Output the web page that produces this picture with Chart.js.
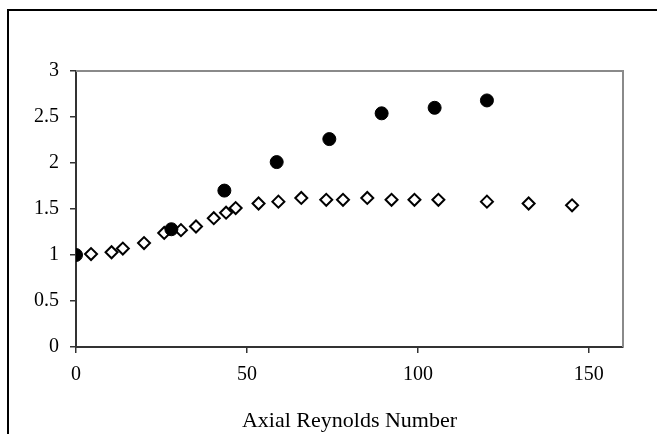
<!DOCTYPE html>
<html>
<head>
<meta charset="utf-8">
<script src="https://cdn.jsdelivr.net/npm/chart.js@4/dist/chart.umd.min.js"></script>
<style>
html,body{margin:0;padding:0;background:#fff;}
#wrap{width:657px;height:434px;position:relative;}
</style>
</head>
<body>
<div id="wrap"><canvas id="c" width="657" height="434"></canvas></div>
<script>
// Filled circles series
const circleX = [0, 27.9, 43.4, 58.7, 74.1, 89.4, 104.9, 120.2];
const circleY = [1.0, 1.28, 1.70, 2.01, 2.26, 2.54, 2.60, 2.68];
// Open diamonds series
const diamondX = [4.4, 10.4, 13.7, 19.9, 25.8, 30.7, 35.1, 40.3, 43.9, 46.7, 53.4, 59.2, 65.9, 73.2, 78.1, 85.2, 92.3, 99.0, 106.0, 120.2, 132.4, 145.1];
const diamondY = [1.01, 1.03, 1.07, 1.13, 1.24, 1.27, 1.31, 1.40, 1.46, 1.51, 1.56, 1.58, 1.62, 1.60, 1.60, 1.62, 1.60, 1.60, 1.60, 1.58, 1.56, 1.54];
// Tick values and labels
const xTicks = [0, 50, 100, 150];
const yTicks = [0, 0.5, 1, 1.5, 2, 2.5, 3];
const yTickLabels = ['0', '0.5', '1', '1.5', '2', '2.5', '3'];
const xTitle = 'Axial Reynolds Number';

const toPts = (xs, ys) => xs.map((x, i) => ({x: x, y: ys[i]}));

const framePlugin = {
  id: 'frame',
  beforeDraw(chart) {
    const ctx = chart.ctx;
    ctx.save();
    ctx.strokeStyle = '#000';
    ctx.lineWidth = 2;
    ctx.beginPath();
    ctx.moveTo(8, 434);
    ctx.lineTo(8, 10);
    ctx.lineTo(657, 10);
    ctx.stroke();
    ctx.restore();
  },
  afterDatasetsDraw(chart) {
    const a = chart.chartArea;
    const ctx = chart.ctx;
    ctx.save();
    ctx.strokeStyle = '#8a8a8a';
    ctx.lineWidth = 2;
    ctx.beginPath();
    ctx.moveTo(a.left, a.top);
    ctx.lineTo(a.right, a.top);
    ctx.lineTo(a.right, a.bottom);
    ctx.stroke();
    ctx.restore();
  }
};

const font = {family: '"Liberation Serif", "Times New Roman", serif', size: 20};

new Chart(document.getElementById('c'), {
  type: 'scatter',
  data: {
    datasets: [
      {
        label: 'A',
        data: toPts(circleX, circleY),
        pointStyle: 'circle',
        pointRadius: 6.5,
        pointHoverRadius: 6.5,
        backgroundColor: '#000',
        borderColor: '#000',
        borderWidth: 1
      },
      {
        label: 'B',
        data: toPts(diamondX, diamondY),
        pointStyle: 'rectRot',
        pointRadius: 6,
        pointHoverRadius: 6,
        backgroundColor: '#fff',
        borderColor: '#000',
        borderWidth: 2
      }
    ]
  },
  options: {
    responsive: false,
    animation: false,
    events: [],
    layout: {padding: {top: 71, right: 34, left: 0, bottom: 0}},
    plugins: {legend: {display: false}, tooltip: {enabled: false}},
    scales: {
      x: {
        type: 'linear',
        min: 0,
        max: 160,
        afterBuildTicks(scale) { scale.ticks = xTicks.map(v => ({value: v})); },
        afterFit(scale) { scale.height = 87; },
        border: {display: true, color: '#333', width: 2},
        grid: {drawOnChartArea: false, drawTicks: true, tickLength: 6, tickColor: '#333', lineWidth: 1.5},
        ticks: {color: '#000', font: font, padding: 10, maxRotation: 0, callback: (v) => String(v)},
        title: {display: true, text: xTitle, color: '#000', font: {family: font.family, size: 22}, padding: {top: 0, bottom: 0}}
      },
      y: {
        type: 'linear',
        min: 0,
        max: 3,
        afterBuildTicks(scale) { scale.ticks = yTicks.map(v => ({value: v})); },
        afterFit(scale) { scale.width = 76; },
        border: {display: true, color: '#333', width: 2},
        grid: {drawOnChartArea: false, drawTicks: true, tickLength: 6, tickColor: '#333', lineWidth: 1.5},
        ticks: {color: '#000', font: font, padding: 11, callback: (v) => yTickLabels[yTicks.indexOf(v)]}
      }
    }
  },
  plugins: [framePlugin]
});
</script>
</body>
</html>
